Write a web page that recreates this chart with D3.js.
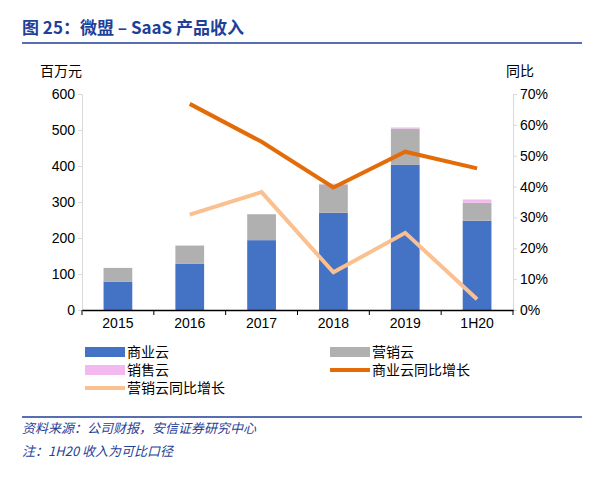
<!DOCTYPE html>
<html><head><meta charset="utf-8">
<script src="https://cdn.jsdelivr.net/npm/d3@7"></script>
<style>body{margin:0;background:#fff;font-family:"Noto Sans CJK SC",Arial,sans-serif}</style>
</head><body>
<svg id="c" width="600" height="481"></svg>
<script>
const years = ["2015","2016","2017","2018","2019","1H20"];
const commerce = [79, 129, 194, 270, 403, 248];
const marketing = [38, 50, 72, 79, 101, 50];
const sales = [0, 0, 0, 2, 3, 9];
const commerceYoY = [null, 66.8, 54.5, 39.7, 51.3, 45.9];
const marketingYoY = [null, 30.9, 38.2, 12.2, 25.0, 3.5];
const leftTicks = [0,100,200,300,400,500,600];
const rightTicks = [0,10,20,30,40,50,60,70];

const svg = d3.select("#c");
const blue = "#1f3f99";
// title
svg.append("text").attr("x", 22).attr("y", 34).attr("fill", blue)
  .attr("font-size", 17).attr("font-weight", "bold").text("图 25：微盟 – SaaS 产品收入");
svg.append("line").attr("x1", 22).attr("x2", 582).attr("y1", 43).attr("y2", 43)
  .attr("stroke", blue).attr("stroke-width", 1.5);

const pLeft = 82, pRight = 513, pTop = 94, pBottom = 310;
const x = d3.scaleBand().domain(years).range([pLeft, pRight]).paddingInner(0.6).paddingOuter(0.3);
const y = d3.scaleLinear().domain([0, 600]).range([pBottom, pTop]);
const y2 = d3.scaleLinear().domain([0, 70]).range([pBottom, pTop]);

// bars
const series = [[commerce, "#4472c4"], [marketing, "#b0b0b0"], [sales, "#f4b8f0"]];
years.forEach((yr, i) => {
  let base = 0;
  series.forEach(([arr, col]) => {
    const v = arr[i];
    svg.append("rect").attr("x", x(yr)).attr("width", x.bandwidth())
      .attr("y", y(base + v)).attr("height", y(base) - y(base + v)).attr("fill", col);
    base += v;
  });
});

// axes
const ax = svg.append("g").attr("transform", `translate(${pLeft},0)`)
  .call(d3.axisLeft(y).tickValues(leftTicks).tickSize(4));
ax.select(".domain").attr("stroke", "#d9d9d9");
ax.selectAll(".tick line").attr("stroke", "#d9d9d9");
ax.selectAll("text").attr("font-size", 14).attr("font-family", "Arial").attr("fill", "#000");
const ax2 = svg.append("g").attr("transform", `translate(${pRight},0)`)
  .call(d3.axisRight(y2).tickValues(rightTicks).tickFormat(d => d + "%").tickSize(4));
ax2.select(".domain").attr("stroke", "#d9d9d9");
ax2.selectAll(".tick line").attr("stroke", "#d9d9d9");
ax2.selectAll("text").attr("font-size", 14).attr("font-family", "Arial").attr("fill", "#000");
const xb = svg.append("g").attr("transform", `translate(0,${pBottom})`)
  .call(d3.axisBottom(x).tickSize(0));
xb.select(".domain").attr("stroke", "#000").attr("stroke-width", 1.5);
xb.selectAll("text").attr("font-size", 14).attr("font-family", "Arial").attr("fill", "#000").attr("dy", "1.1em");
d3.range(years.length + 1).forEach(i => {
  const px = pLeft + i * (pRight - pLeft) / years.length;
  svg.append("line").attr("x1", px).attr("x2", px).attr("y1", pBottom).attr("y2", pBottom + 5).attr("stroke", "#000");
});

svg.append("text").attr("x", 40).attr("y", 76).attr("font-size", 14).text("百万元");
svg.append("text").attr("x", 506).attr("y", 76).attr("font-size", 14).text("同比");

// lines
const line = d3.line().defined(d => d[1] != null).x(d => x(d[0]) + x.bandwidth() / 2).y(d => y2(d[1]));
[[commerceYoY, "#e36c09"], [marketingYoY, "#fac090"]].forEach(([arr, col]) => {
  svg.append("path").datum(years.map((yr, i) => [yr, arr[i]])).attr("d", line)
    .attr("fill", "none").attr("stroke", col).attr("stroke-width", 4);
});

// legend
const leg = [
  ["商业云", "#4472c4", "rect", 85, 352], ["营销云", "#b0b0b0", "rect", 330, 352],
  ["销售云", "#f4b8f0", "rect", 85, 370], ["商业云同比增长", "#e36c09", "line", 330, 370],
  ["营销云同比增长", "#fac090", "line", 85, 388]];
leg.forEach(([t, c, k, lx, ly]) => {
  if (k === "rect") svg.append("rect").attr("x", lx).attr("y", ly - 5).attr("width", 40).attr("height", 10).attr("fill", c);
  else svg.append("line").attr("x1", lx).attr("x2", lx + 40).attr("y1", ly).attr("y2", ly).attr("stroke", c).attr("stroke-width", 4);
  svg.append("text").attr("x", lx + 42).attr("y", ly + 5).attr("font-size", 14).text(t);
});

// footer
svg.append("line").attr("x1", 22).attr("x2", 582).attr("y1", 417).attr("y2", 417).attr("stroke", blue).attr("stroke-width", 1.5);
svg.append("text").attr("x", 22).attr("y", 433).attr("font-size", 13).attr("fill", blue).attr("font-style", "italic").text("资料来源：公司财报，安信证券研究中心");
svg.append("text").attr("x", 22).attr("y", 456).attr("font-size", 13).attr("fill", blue).attr("font-style", "italic").text("注：1H20 收入为可比口径");
</script>
</body></html>
